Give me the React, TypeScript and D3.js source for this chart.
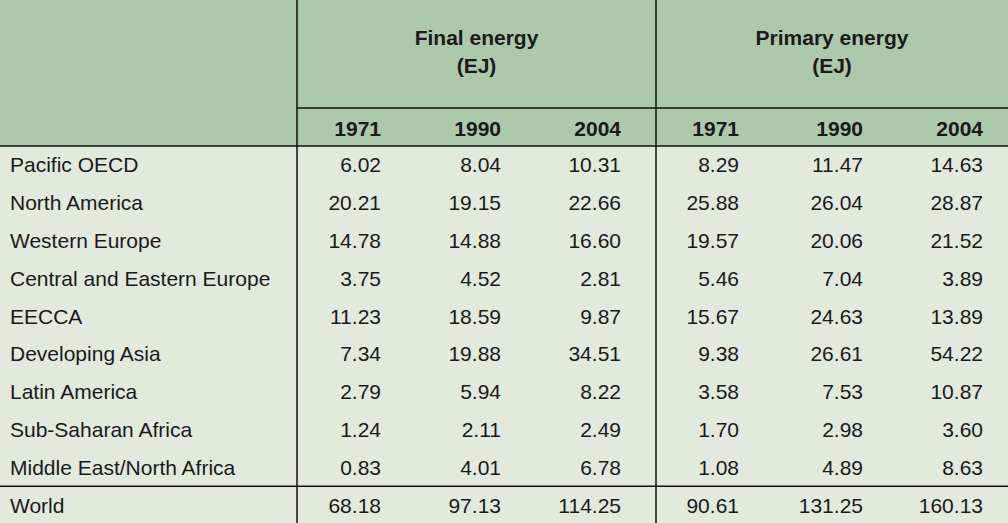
import React from "react";
import * as d3 from "d3";

const regions = [
  "Pacific OECD",
  "North America",
  "Western Europe",
  "Central and Eastern Europe",
  "EECCA",
  "Developing Asia",
  "Latin America",
  "Sub-Saharan Africa",
  "Middle East/North Africa",
  "World",
];
const years = ["1971", "1990", "2004"];
const groups = ["Final energy", "Primary energy"];
const unit = "(EJ)";

const final1971 = [6.02, 20.21, 14.78, 3.75, 11.23, 7.34, 2.79, 1.24, 0.83, 68.18];
const final1990 = [8.04, 19.15, 14.88, 4.52, 18.59, 19.88, 5.94, 2.11, 4.01, 97.13];
const final2004 = [10.31, 22.66, 16.6, 2.81, 9.87, 34.51, 8.22, 2.49, 6.78, 114.25];
const prim1971 = [8.29, 25.88, 19.57, 5.46, 15.67, 9.38, 3.58, 1.7, 1.08, 90.61];
const prim1990 = [11.47, 26.04, 20.06, 7.04, 24.63, 26.61, 7.53, 2.98, 4.89, 131.25];
const prim2004 = [14.63, 28.87, 21.52, 3.89, 13.89, 54.22, 10.87, 3.6, 8.63, 160.13];

const columns = [final1971, final1990, final2004, prim1971, prim1990, prim2004];

const W = 1008;
const H = 523;
const headerH = 146;
const subLineY = 108;
const labelColW = 297;
const groupSplit = 656;

export default function App() {
  const y = d3
    .scaleBand<string>()
    .domain(regions)
    .range([headerH, headerH + 37.8 * regions.length])
    .paddingInner(0);
  const colRight = [381, 501, 621, 739, 863, 983];
  const fmt = d3.format(".2f");
  const font = "'Liberation Sans', Arial, Helvetica, sans-serif";
  const ink = "#1a1a1a";
  const fs = 21;
  const groupCenters = [(labelColW + groupSplit) / 2, (groupSplit + W) / 2];

  return (
    <svg
      width={W}
      height={H}
      style={{ position: "absolute", left: 0, top: 0, display: "block" }}
      fontFamily={font}
    >
      <rect x={0} y={0} width={W} height={H} fill="#e2e9dd" />
      <rect x={0} y={0} width={W} height={headerH} fill="#adc9ab" />
      {groups.map((g, i) => (
        <g key={g}>
          <text
            x={groupCenters[i]}
            y={45}
            textAnchor="middle"
            fontWeight="bold"
            fontSize={fs}
            fill={ink}
          >
            {g}
          </text>
          <text
            x={groupCenters[i]}
            y={73}
            textAnchor="middle"
            fontWeight="bold"
            fontSize={fs}
            fill={ink}
          >
            {unit}
          </text>
        </g>
      ))}
      {colRight.map((x, i) => (
        <text
          key={"yr" + i}
          x={x}
          y={136}
          textAnchor="end"
          fontWeight="bold"
          fontSize={fs}
          fill={ink}
        >
          {years[i % 3]}
        </text>
      ))}
      {regions.map((r, ri) => {
        const cy = (y(r) as number) + y.bandwidth() / 2;
        return (
          <g key={r}>
            <text x={10} y={cy + 7.5} fontSize={fs} fill={ink}>
              {r}
            </text>
            {columns.map((col, ci) => (
              <text
                key={ci}
                x={colRight[ci]}
                y={cy + 7.5}
                textAnchor="end"
                fontSize={fs}
                fill={ink}
              >
                {fmt(col[ri])}
              </text>
            ))}
          </g>
        );
      })}
      <g stroke="#111" strokeWidth={1.5}>
        <line x1={labelColW} x2={W} y1={subLineY} y2={subLineY} />
        <line x1={0} x2={W} y1={headerH} y2={headerH} />
        <line
          x1={0}
          x2={W}
          y1={y("World") as number}
          y2={y("World") as number}
        />
        <line x1={labelColW} x2={labelColW} y1={0} y2={H} />
        <line x1={groupSplit} x2={groupSplit} y1={0} y2={H} />
      </g>
    </svg>
  );
}
